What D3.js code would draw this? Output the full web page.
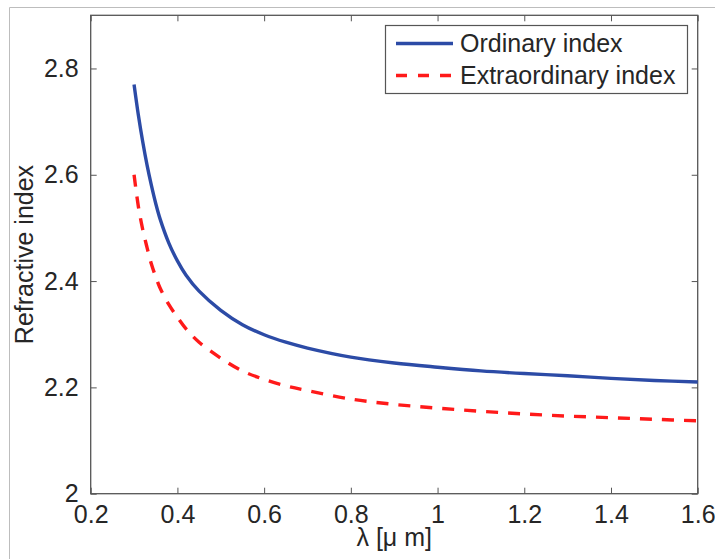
<!DOCTYPE html>
<html>
<head>
<meta charset="utf-8">
<script src="https://cdn.jsdelivr.net/npm/d3@7"></script>
<style>
  body { margin: 0; background: #fff; }
  svg { display: block; font-family: Arial, "Liberation Sans", sans-serif; }
</style>
</head>
<body>
<svg id="chart" width="715" height="559"></svg>
<script>
// wavelength in micrometres
var lambda = [0.30, 0.31, 0.32, 0.33, 0.34, 0.35, 0.36, 0.38, 0.40, 0.42, 0.45,
              0.50, 0.55, 0.60, 0.65, 0.70, 0.80, 0.90, 1.00, 1.10, 1.20, 1.30,
              1.40, 1.50, 1.60];
var ordinary = [2.770, 2.712, 2.662, 2.618, 2.580, 2.546, 2.517, 2.472, 2.438, 2.411, 2.381,
                2.345, 2.318, 2.299, 2.285, 2.274, 2.257, 2.246, 2.238, 2.231, 2.226, 2.222,
                2.217, 2.213, 2.210];
var extraordinary = [2.600, 2.540, 2.497, 2.463, 2.432, 2.408, 2.387, 2.356, 2.332, 2.310, 2.285,
                     2.255, 2.231, 2.215, 2.203, 2.194, 2.178, 2.168, 2.161, 2.155, 2.150, 2.146,
                     2.143, 2.140, 2.137];
var xTicks = [0.2, 0.4, 0.6, 0.8, 1, 1.2, 1.4, 1.6];
var yTicks = [2, 2.2, 2.4, 2.6, 2.8];
var seriesNames = ["Ordinary index", "Extraordinary index"];

// plot area edges (note: "top" is reserved on window, so use p-prefixed names)
var pLeft = 90.7, pRight = 697.7, pTop = 15.3, pBottom = 493.7;
var svg = d3.select("#chart");

// figure frame (left and top edges only)
svg.append("path")
  .attr("d", "M9.5,559 V7.5 H715")
  .attr("fill", "none")
  .attr("stroke", "#bdbdbd");

var x = d3.scaleLinear().domain([0.2, 1.6]).range([pLeft, pRight]);
var y = d3.scaleLinear().domain([2, 2.9]).range([pBottom, pTop]);

var fmt = function(d) { return String(+d.toFixed(1)); };

function styleAxis(g) {
  g.select(".domain").remove();
  g.selectAll(".tick line").attr("stroke", "#555");
  g.selectAll(".tick text")
    .attr("fill", "#262626")
    .style("font-size", "25px");
}

svg.append("g")
  .attr("transform", "translate(0," + pBottom + ")")
  .call(d3.axisBottom(x).tickValues(xTicks).tickSize(-6).tickPadding(12).tickFormat(fmt))
  .call(styleAxis);

svg.append("g")
  .attr("transform", "translate(0," + pTop + ")")
  .call(d3.axisTop(x).tickValues(xTicks).tickSize(-6).tickFormat(""))
  .call(styleAxis);

svg.append("g")
  .attr("transform", "translate(" + pLeft + ",0)")
  .call(d3.axisLeft(y).tickValues(yTicks).tickSize(-6).tickPadding(12).tickFormat(fmt))
  .call(styleAxis);

svg.append("g")
  .attr("transform", "translate(" + pRight + ",0)")
  .call(d3.axisRight(y).tickValues(yTicks).tickSize(-6).tickFormat(""))
  .call(styleAxis);

svg.selectAll("text").attr("font-family", "Arial, 'Liberation Sans', sans-serif");

// plot box
svg.append("rect")
  .attr("x", pLeft).attr("y", pTop)
  .attr("width", pRight - pLeft).attr("height", pBottom - pTop)
  .attr("fill", "none")
  .attr("stroke", "#555")
  .attr("stroke-width", 1.3);

var line = d3.line()
  .x(function(d) { return x(d[0]); })
  .y(function(d) { return y(d[1]); })
  .curve(d3.curveCatmullRom.alpha(0.5));

svg.append("path")
  .datum(d3.zip(lambda, ordinary))
  .attr("d", line)
  .attr("fill", "none")
  .attr("stroke", "#2c4ba6")
  .attr("stroke-width", 3.4);

svg.append("path")
  .datum(d3.zip(lambda, extraordinary))
  .attr("d", line)
  .attr("fill", "none")
  .attr("stroke", "#ff1a1a")
  .attr("stroke-width", 3.4)
  .attr("stroke-dasharray", "12,10");

// legend
var legend = svg.append("g");
legend.append("rect")
  .attr("x", 385.5).attr("y", 25.5)
  .attr("width", 302).attr("height", 68)
  .attr("fill", "#fff")
  .attr("stroke", "#555")
  .attr("stroke-width", 1.2);

var legendStyles = [
  { color: "#2c4ba6", dash: null },
  { color: "#ff1a1a", dash: "11,11" }
];
seriesNames.forEach(function(name, i) {
  var ly = 43.5 + i * 32;
  legend.append("line")
    .attr("x1", 396).attr("x2", 453)
    .attr("y1", ly).attr("y2", ly)
    .attr("stroke", legendStyles[i].color)
    .attr("stroke-width", 3.4)
    .attr("stroke-dasharray", legendStyles[i].dash);
  legend.append("text")
    .attr("x", 460).attr("y", ly)
    .attr("dy", "0.35em")
    .attr("fill", "#262626")
    .style("font-size", "25px")
    .text(name);
});

// axis titles
svg.append("text")
  .attr("x", (pLeft + pRight) / 2).attr("y", 546)
  .attr("text-anchor", "middle")
  .attr("fill", "#262626")
  .style("font-size", "25px")
  .text("λ [μ m]");

svg.append("text")
  .attr("transform", "translate(33," + ((pTop + pBottom) / 2) + ") rotate(-90)")
  .attr("text-anchor", "middle")
  .attr("fill", "#262626")
  .style("font-size", "25px")
  .text("Refractive index");
</script>
</body>
</html>
